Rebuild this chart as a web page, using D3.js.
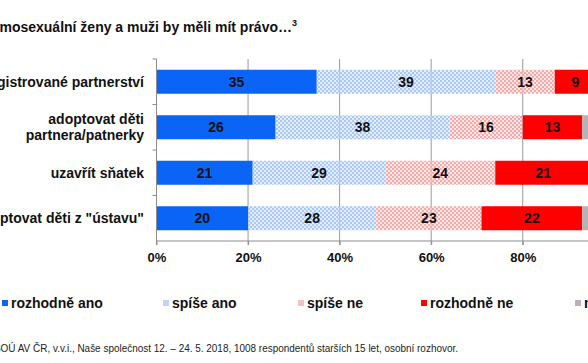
<!DOCTYPE html>
<html><head><meta charset="utf-8">
<script src="https://cdn.jsdelivr.net/npm/d3@7"></script>
<style>
html,body{margin:0;padding:0;background:#fff;overflow:hidden}
svg{display:block;font-family:"Liberation Sans",Arial,sans-serif}
</style></head>
<body>
<svg id="c" width="588" height="363"></svg>
<script>
const categories = ["uzavřít registrované partnerství", "adoptovat děti|partnera/patnerky", "uzavřít sňatek", "adoptovat děti z \"ústavu\""];
const seriesNames = ["rozhodně ano", "spíše ano", "spíše ne", "rozhodně ne", "neví"];
const rozhodneAno = [35, 26, 21, 20];
const spiseAno = [39, 38, 29, 28];
const spiseNe = [13, 16, 24, 23];
const rozhodneNe = [9, 13, 21, 22];
const nevi = [4, 7, 5, 7];
const tickValues = [0, 20, 40, 60, 80, 100];
const titleText = "Homosexuální ženy a muži by měli mít právo…";
const footText = "Zdroj: CVVM SOÚ AV ČR, v.v.i., Naše společnost 12. – 24. 5. 2018, 1008 respondentů starších 15 let, osobní rozhovor.";
const footVisible = "OÚ AV ČR, v.v.i., Naše společnost 12. – 24. 5. 2018, 1008 respondentů starších 15 let, osobní rozhovor.";

const seriesData = [rozhodneAno, spiseAno, spiseNe, rozhodneNe, nevi];
const svg = d3.select("#c");
const defs = svg.append("defs");
function checker(id, c1, c2) {
  const p = defs.append("pattern").attr("id", id).attr("patternUnits", "userSpaceOnUse")
    .attr("width", 4).attr("height", 4);
  p.append("rect").attr("width", 4).attr("height", 4).attr("fill", c2);
  p.append("rect").attr("x", 0).attr("y", 0).attr("width", 2).attr("height", 2).attr("fill", c1);
  p.append("rect").attr("x", 2).attr("y", 2).attr("width", 2).attr("height", 2).attr("fill", c1);
}
checker("pBlue", "#a9c8f8", "rgba(205,224,252,0.55)");
checker("pPink", "#f6a9a9", "rgba(251,214,214,0.55)");
const fills = ["#0a64f5", "url(#pBlue)", "url(#pPink)", "#ff0000", "#b4b4b4"];
const legendFills = ["#0a64f5", "#bcd5f9", "#f8c0c0", "#ff0000", "#b4b4b4"];

const x = d3.scaleLinear().domain([0, 100]).range([156.5, 614.3]);
const y = d3.scaleBand().domain(categories).range([59, 241]).paddingInner(0.47).paddingOuter(0.235);

// gridlines
svg.append("g").selectAll("line").data(tickValues.slice(1)).join("line")
  .attr("x1", d => x(d)).attr("x2", d => x(d)).attr("y1", 59).attr("y2", 245)
  .attr("stroke", "#9a9a9a").attr("stroke-width", 1);

// stacked data
const rows = categories.map((c, i) => {
  const o = { cat: c };
  seriesNames.forEach((s, j) => o[s] = seriesData[j][i]);
  return o;
});
const stack = d3.stack().keys(seriesNames)(rows);

const bh = 24;
stack.forEach((layer, j) => {
  const g = svg.append("g");
  g.selectAll("rect").data(layer).join("rect")
    .attr("x", d => x(d[0])).attr("width", d => x(d[1]) - x(d[0]))
    .attr("y", d => y(d.data.cat) + y.bandwidth() / 2 - bh / 2).attr("height", bh)
    .attr("fill", fills[j]);
  if (j < 4) {
    g.selectAll("text").data(layer).join("text")
      .attr("x", d => x((d[0] + d[1]) / 2)).attr("y", d => y(d.data.cat) + y.bandwidth() / 2 + 5)
      .attr("text-anchor", "middle").attr("font-size", 14).attr("font-weight", "bold").attr("fill", "#111")
      .text(d => d[1] - d[0]);
  }
});

// axes
const axisColor = "#8c8c8c";
svg.append("line").attr("x1", x(0)).attr("x2", 588).attr("y1", 241).attr("y2", 241).attr("stroke", axisColor);
svg.append("line").attr("x1", x(0)).attr("x2", x(0)).attr("y1", 59).attr("y2", 245).attr("stroke", axisColor);
categories.forEach((c, i) => {
  const yy = 59 + (i + 1) * (241 - 59) / 4;
  if (i < 3) svg.append("line").attr("x1", x(0) - 4).attr("x2", x(0)).attr("y1", yy).attr("y2", yy).attr("stroke", axisColor);
});
svg.append("line").attr("x1", x(0) - 4).attr("x2", x(0)).attr("y1", 59).attr("y2", 59).attr("stroke", axisColor);

const xa = svg.append("g").attr("transform", "translate(0,241)")
  .call(d3.axisBottom(x).tickValues(tickValues).tickSize(4).tickFormat(d => d + "%"));
xa.select(".domain").remove();
xa.selectAll("line").attr("stroke", axisColor);
xa.selectAll("text").attr("font-size", 13).attr("font-weight", "bold").attr("fill", "#111")
  .attr("font-family", "Liberation Sans, Arial, sans-serif").attr("dy", "1.05em");

// category labels
categories.forEach(c => {
  const lines = c.split("|");
  const cy = y(c) + y.bandwidth() / 2;
  const t = svg.append("text").attr("text-anchor", "end").attr("font-size", 14).attr("font-weight", "bold").attr("fill", "#111");
  lines.forEach((l, k) => {
    t.append("tspan").attr("x", 144).attr("y", cy + 5 + (k - (lines.length - 1) / 2) * 16).text(l);
  });
});

// title
const tt = svg.append("text").attr("x", 297).attr("y", 32).attr("text-anchor", "end")
  .attr("font-size", 14).attr("font-weight", "bold").attr("fill", "#111");
tt.append("tspan").text(titleText);
tt.append("tspan").attr("font-size", 9).attr("dy", -6).text("3");

// legend
const legX = [2, 163, 298, 421, 575];
seriesNames.forEach((s, j) => {
  svg.append("rect").attr("x", legX[j]).attr("y", 300).attr("width", 6).attr("height", 6).attr("fill", legendFills[j]);
  svg.append("text").attr("x", legX[j] + 9).attr("y", 308).attr("font-size", 14).attr("font-weight", "bold")
    .attr("fill", "#111").text(s);
});

// footnote
const tmp = svg.append("text").attr("font-size", 10).text(footVisible);
const wVis = tmp.node().getComputedTextLength();
tmp.remove();
const sc = 458 / wVis;
svg.append("text").attr("transform", `translate(458,352) scale(${sc},1)`).attr("text-anchor", "end")
  .attr("font-size", 10).attr("fill", "#222").text(footText);
</script>
</body></html>
